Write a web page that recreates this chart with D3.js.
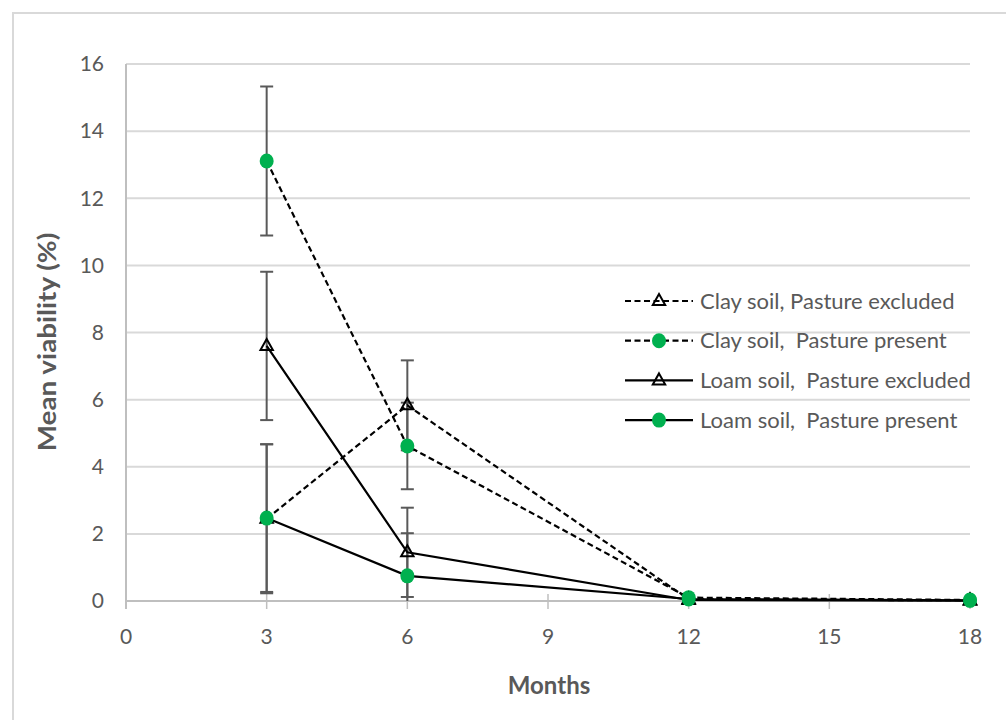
<!DOCTYPE html>
<html><head><meta charset="utf-8">
<script src="https://cdn.jsdelivr.net/npm/d3@7"></script>
<style>body{margin:0;background:#fff}svg{display:block}</style>
</head><body>
<svg id="c" width="1006" height="720"></svg>
<script>
const months = [3, 6, 12, 18];
const xTicks = [0, 3, 6, 9, 12, 15, 18];
const yTicks = [0, 2, 4, 6, 8, 10, 12, 14, 16];
const seriesNames = ["Clay soil, Pasture excluded", "Clay soil,  Pasture present", "Loam soil,  Pasture excluded", "Loam soil,  Pasture present"];
const clayExcluded = [2.45, 5.83, 0.05, 0.02];
const clayExcludedErr = [2.22, 1.34, 0, 0];
const clayPresent = [13.11, 4.62, 0.10, 0.03];
const clayPresentErr = [2.22, 1.29, 0, 0];
const loamExcluded = [7.60, 1.45, 0.03, 0.01];
const loamExcludedErr = [2.21, 1.33, 0, 0];
const loamPresent = [2.47, 0.75, 0.06, 0.02];
const loamPresentErr = [2.20, 1.27, 0, 0];

const series = [
  {name: seriesNames[0], v: clayExcluded, e: clayExcludedErr, dash: true, marker: "tri"},
  {name: seriesNames[1], v: clayPresent, e: clayPresentErr, dash: true, marker: "dot"},
  {name: seriesNames[2], v: loamExcluded, e: loamExcludedErr, dash: false, marker: "tri"},
  {name: seriesNames[3], v: loamPresent, e: loamPresentErr, dash: false, marker: "dot"}
];

const svg = d3.select("#c");
const FONT = "Lato, 'Liberation Sans', sans-serif";
const x = d3.scaleLinear().domain([0, 18]).range([126, 970]);
const y = d3.scaleLinear().domain([0, 16]).range([601, 64]);
const GREEN = "#00b04f";

// outer frame
svg.append("path").attr("d", "M13,740 V13 H1020").attr("fill", "none").attr("stroke", "#d9d9d9").attr("stroke-width", 2);

// gridlines
svg.append("g").selectAll("line").data(yTicks.filter(d => d > 0)).join("line")
  .attr("x1", x(0)).attr("x2", x(18)).attr("y1", d => y(d)).attr("y2", d => y(d))
  .attr("stroke", "#d9d9d9").attr("stroke-width", 2);

// axes lines
svg.append("line").attr("x1", x(0)).attr("x2", x(0)).attr("y1", y(16)).attr("y2", y(0) + 8)
  .attr("stroke", "#bfbfbf").attr("stroke-width", 2);
svg.append("line").attr("x1", x(0)).attr("x2", x(18)).attr("y1", y(0)).attr("y2", y(0))
  .attr("stroke", "#bfbfbf").attr("stroke-width", 2);
svg.append("g").selectAll("line").data(xTicks).join("line")
  .attr("x1", d => x(d)).attr("x2", d => x(d)).attr("y1", d => d === 0 ? y(0) : y(0) - 7).attr("y2", y(0) + 8)
  .attr("stroke", "#bfbfbf").attr("stroke-width", 1.5);

// tick labels
svg.append("g").selectAll("text").data(yTicks).join("text")
  .attr("x", 104).attr("y", d => y(d)).attr("dy", "0.35em").attr("text-anchor", "end")
  .attr("font-family", FONT).attr("font-size", 21).attr("fill", "#595959").text(d => d);
svg.append("g").selectAll("text").data(xTicks).join("text")
  .attr("x", d => x(d)).attr("y", 637).attr("dy", "0.35em").attr("text-anchor", "middle")
  .attr("font-family", FONT).attr("font-size", 21).attr("fill", "#595959").text(d => d);

// axis titles
svg.append("text").attr("transform", "translate(48,342) scale(1,1.16) rotate(-90)").attr("text-anchor", "middle").attr("dy", "0.35em")
  .attr("font-family", FONT).attr("font-weight", "bold").attr("font-size", 24).attr("fill", "#595959").text("Mean viability (%)");
svg.append("text").attr("x", 549).attr("y", 686).attr("text-anchor", "middle").attr("dy", "0.35em")
  .attr("font-family", FONT).attr("font-weight", "bold").attr("font-size", 24).attr("fill", "#595959").text("Months");

// error bars
const eg = svg.append("g").attr("stroke", "#595959").attr("stroke-width", 2);
series.forEach(s => {
  months.forEach((m, i) => {
    if (!s.e[i]) return;
    const hi = s.v[i] + s.e[i], lo = Math.max(0, s.v[i] - s.e[i]);
    const cx = x(m);
    eg.append("line").attr("x1", cx).attr("x2", cx).attr("y1", y(hi)).attr("y2", y(lo));
    eg.append("line").attr("x1", cx - 6.5).attr("x2", cx + 6.5).attr("y1", y(hi)).attr("y2", y(hi));
    if (s.v[i] - s.e[i] > 0)
      eg.append("line").attr("x1", cx - 6.5).attr("x2", cx + 6.5).attr("y1", y(lo)).attr("y2", y(lo));
  });
});

const line = d3.line().x((d, i) => x(months[i])).y(d => y(d));
const triPath = "M0,-7 L6.2,4 L-6.2,4 Z";

function drawMarker(g, type, cx, cy) {
  if (type === "tri") {
    g.append("path").attr("d", triPath).attr("transform", `translate(${cx},${cy})`)
      .attr("fill", "none").attr("stroke", "#000").attr("stroke-width", 2).attr("stroke-linejoin", "miter");
  } else {
    g.append("ellipse").attr("cx", cx).attr("cy", cy).attr("rx", 7).attr("ry", 7.5).attr("fill", GREEN);
  }
}

series.forEach(s => {
  const g = svg.append("g");
  g.append("path").attr("d", line(s.v)).attr("fill", "none").attr("stroke", "#000").attr("stroke-width", 2.2)
    .attr("stroke-dasharray", s.dash ? "6,3.5" : null);
  s.v.forEach((v, i) => drawMarker(g, s.marker, x(months[i]), y(v)));
});

// legend
const lg = svg.append("g");
series.forEach((s, i) => {
  const ly = 301 + i * 39.7;
  const g = lg.append("g");
  g.append("line").attr("x1", 625).attr("x2", 693).attr("y1", ly).attr("y2", ly)
    .attr("stroke", "#000").attr("stroke-width", 2.2).attr("stroke-dasharray", s.dash ? "6,3.5" : null);
  drawMarker(g, s.marker, 659, ly);
  g.append("text").attr("x", 700).attr("y", ly).attr("dy", "0.35em").attr("font-family", FONT)
    .attr("font-size", 22).attr("fill", "#595959").attr("xml:space", "preserve").style("white-space", "pre").text(s.name);
});
</script>
</body></html>
